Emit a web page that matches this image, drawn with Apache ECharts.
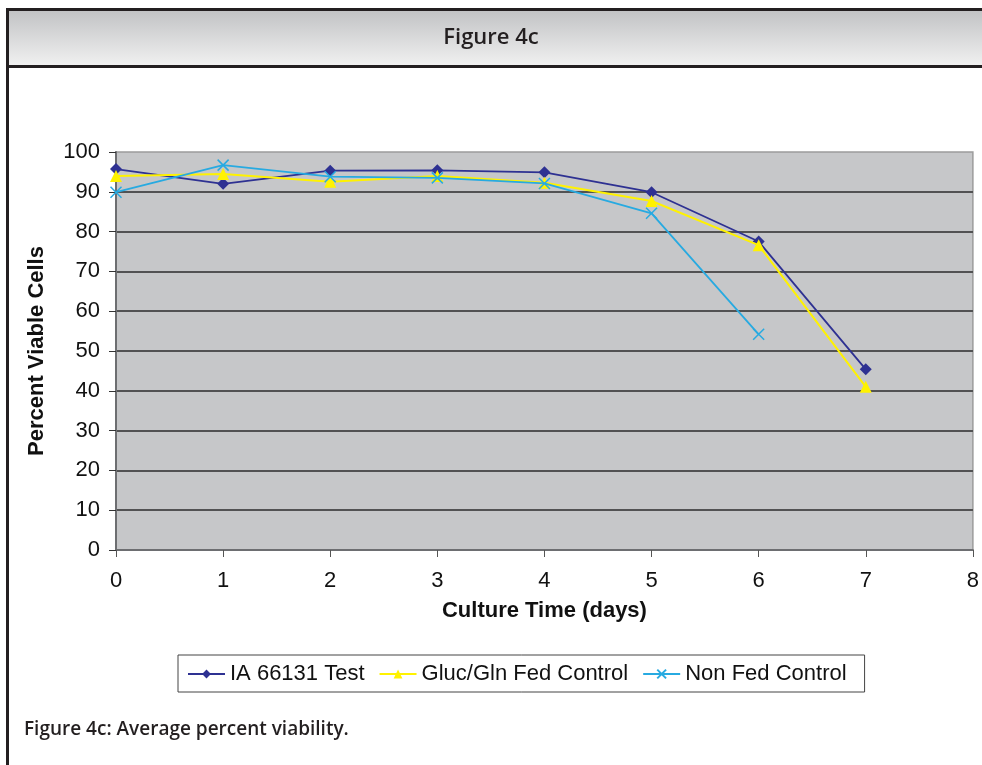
<!DOCTYPE html>
<html>
<head>
<meta charset="utf-8">
<script src="https://cdn.jsdelivr.net/npm/echarts@6/dist/echarts.min.js"></script>
<style>
  html, body { margin: 0; padding: 0; background: #fff; }
  #chart { width: 982px; height: 765px; }
</style>
</head>
<body>
<div id="chart"></div>
<script>
const cultureDays = [0, 1, 2, 3, 4, 5, 6, 7];
const testValues = [95.7, 92.0, 95.3, 95.4, 94.9, 89.9, 77.5, 45.4];
const fedControlValues = [94.0, 94.5, 92.5, 94.0, 92.3, 87.7, 76.6, 41.0];
const nonFedValues = [89.9, 96.7, 93.8, 93.5, 92.1, 84.6, 54.2];

const seriesNames = ["IA 66131 Test", "Gluc/Gln Fed Control", "Non Fed Control"];
const headerTitle = "Figure 4c";
const captionText = "Figure 4c: Average percent viability.";

const toPairs = (values) => values.map((v, i) => [cultureDays[i], v]);

const chartFont = "Liberation Sans, Arial, sans-serif";
const frameColor = "#231f20";

const chart = echarts.init(document.querySelector("#chart"), null, {
  renderer: "canvas",
});

const option = {
  animation: false,
  backgroundColor: "#fff",
  textStyle: { fontFamily: chartFont },
  grid: {
    left: 116,
    top: 152,
    width: 862,
    height: 398,
    show: true,
    backgroundColor: "#c6c7c9",
    borderColor: "#9c9c9c",
    borderWidth: 1.5,
  },
  legend: {
    left: 178,
    top: 655,
    padding: [8, 18, 7, 9],
    itemWidth: 37,
    itemHeight: 11,
    itemGap: 14,
    borderColor: "#444",
    borderWidth: 1,
    textStyle: { fontSize: 22, color: "#111", fontFamily: chartFont },
    data: seriesNames,
  },
  xAxis: {
    type: "value",
    min: 0,
    max: 8,
    interval: 1,
    name: "Culture Time (days)",
    nameLocation: "middle",
    nameGap: 50,
    nameTextStyle: { fontSize: 22, fontWeight: "bold", color: "#111" },
    axisLine: { show: true, lineStyle: { color: "#6d6e71", width: 2 } },
    axisTick: { show: true, length: 7, lineStyle: { color: "#555" } },
    axisLabel: { fontSize: 22, color: "#111", margin: 20 },
    splitLine: { show: false },
  },
  yAxis: {
    type: "value",
    min: 0,
    max: 100,
    interval: 10,
    name: "Percent Viable Cells",
    nameLocation: "middle",
    nameGap: 68,
    nameTextStyle: { fontSize: 22, fontWeight: "bold", color: "#111" },
    axisLine: { show: true, lineStyle: { color: "#6d6e71", width: 2 } },
    axisTick: { show: true, length: 7, lineStyle: { color: "#333" } },
    axisLabel: { fontSize: 22, color: "#111", margin: 16 },
    splitLine: {
      show: true,
      showMinLine: false,
      showMaxLine: false,
      lineStyle: { color: "#2b2b2b", width: 1.5 },
    },
  },
  series: [
    {
      name: seriesNames[0],
      type: "line",
      data: toPairs(testValues),
      symbol: "diamond",
      symbolSize: 12,
      itemStyle: { color: "#2e3192" },
      lineStyle: { color: "#2e3192", width: 1.8 },
      z: 3,
    },
    {
      name: seriesNames[1],
      type: "line",
      data: toPairs(fedControlValues),
      symbol: "triangle",
      symbolSize: 12,
      itemStyle: { color: "#fff200" },
      lineStyle: { color: "#fff200", width: 2 },
      z: 4,
    },
    {
      name: seriesNames[2],
      type: "line",
      data: toPairs(nonFedValues),
      symbol: "path://M0,0L10,10M10,0L0,10",
      symbolSize: 11,
      itemStyle: { color: "#27aae1", borderColor: "#27aae1", borderWidth: 1.5 },
      lineStyle: { color: "#27aae1", width: 1.8 },
      z: 5,
    },
  ],
  graphic: [
    // header band
    {
      type: "rect",
      shape: { x: 9, y: 11, width: 973, height: 54 },
      style: {
        fill: new echarts.graphic.LinearGradient(0, 0, 0, 1, [
          { offset: 0, color: "#c2c3c5" },
          { offset: 1, color: "#f0f0f0" },
        ]),
      },
      silent: true,
    },
    {
      type: "rect",
      shape: { x: 6, y: 8, width: 976, height: 3 },
      style: { fill: frameColor },
      silent: true,
    },
    {
      type: "rect",
      shape: { x: 6, y: 65, width: 976, height: 3 },
      style: { fill: frameColor },
      silent: true,
    },
    {
      type: "rect",
      shape: { x: 6, y: 8, width: 3, height: 757 },
      style: { fill: frameColor },
      silent: true,
    },
    {
      type: "text",
      x: 491,
      y: 38,
      style: {
        text: headerTitle,
        fontFamily: "Open Sans, sans-serif",
        fontWeight: 600,
        fontSize: 22,
        fill: frameColor,
        textAlign: "center",
        textVerticalAlign: "middle",
      },
      silent: true,
    },
    {
      type: "text",
      x: 24,
      y: 730,
      style: {
        text: captionText,
        fontFamily: "Open Sans, sans-serif",
        fontWeight: 600,
        fontSize: 19,
        fill: frameColor,
        textAlign: "left",
        textVerticalAlign: "middle",
      },
      silent: true,
    },
  ],
};

chart.setOption(option);
</script>
</body>
</html>
